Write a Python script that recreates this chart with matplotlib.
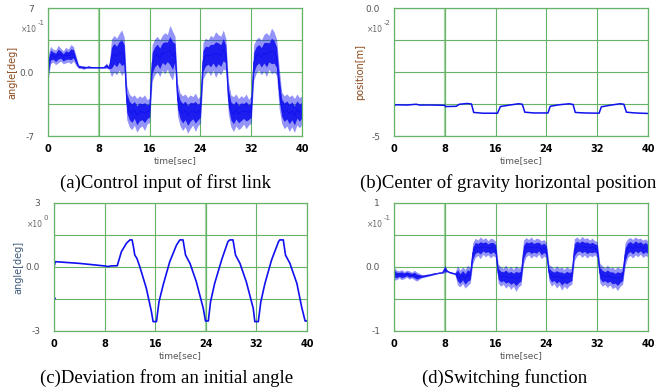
import numpy as np
import matplotlib
matplotlib.use("Agg")
from matplotlib import pyplot as plt

# time grid for the noisy records (a) and (d)
t_noisy = np.linspace(0, 40, 101)

# (a) control input of first link, x10^-1 deg : lower / upper edge of the noise band
a_lo = [-1.0, 0.9, 1.1, 0.8, 1.0, 1.2, 0.9, 1.0, 1.1, 0.9, 1.2, 0.7,
        0.4, 0.4, 0.3, 0.4, 0.4, 0.4, 0.4, 0.4, 0.4, 0.4, 0.4, 0.4, 0.3,
        -0.5, 0.0, -0.3, 0.2, -0.4, 0.1,
        -5.2, -6.0, -6.3, -5.8, -6.6, -6.1, -5.9, -6.4, -5.7, -5.5,
        -1.0, -0.3, 0.0, -0.5, 0.2, -0.2, 0.3, -0.4, -0.9, 0.4,
        -4.8, -5.9, -6.4, -6.0, -6.7, -6.2, -5.8, -6.5, -5.9, -5.6,
        -0.8, -0.2, 0.1, -0.4, 0.2, -0.6, 0.0, -0.3, 0.3, 0.2,
        -4.6, -6.0, -6.5, -5.9, -6.3, -6.1, -5.7, -6.2, -5.8, -5.6,
        -0.9, -0.1, 0.2, -0.3, 0.1, -0.5, 0.3, -0.2, 0.0, -0.4,
        -4.0, -5.6, -6.2, -5.9, -6.5, -6.0, -6.6, -5.8, -6.1, -5.7]
a_hi = [1.8, 2.8, 2.5, 2.4, 2.9, 2.6, 2.3, 2.7, 2.5, 3.0, 2.8, 1.8,
        0.8, 0.7, 0.7, 0.6, 0.7, 0.6, 0.6, 0.6, 0.6, 0.6, 0.6, 1.0, 0.6,
        3.6, 4.0, 3.7, 4.2, 4.6, 3.8,
        -1.5, -2.4, -2.7, -2.5, -2.9, -2.6, -2.8, -2.5, -3.0, -2.9,
        3.0, 3.6, 3.9, 3.5, 4.0, 4.3, 4.1, 5.1, 4.5, 3.9,
        -1.2, -2.3, -2.6, -2.4, -2.8, -2.5, -2.7, -2.3, -2.9, -2.6,
        3.2, 3.7, 3.5, 4.0, 3.8, 4.4, 4.1, 3.9, 4.6, 3.7,
        -1.0, -2.5, -2.7, -2.4, -2.9, -2.6, -2.8, -2.4, -3.0, -2.6,
        3.0, 3.6, 3.8, 3.5, 4.1, 4.3, 4.0, 4.8, 4.4, 3.6,
        0.5, -2.2, -2.6, -2.4, -2.7, -2.5, -2.9, -2.4, -2.8, -2.6]

# (d) switching function, x10^-1
d_lo = [-0.20, -0.20, -0.17, -0.20, -0.18, -0.16, -0.19, -0.17, -0.20, -0.22, -0.19,
        -0.17, -0.16, -0.15, -0.14, -0.13, -0.12, -0.11, -0.10, -0.10, -0.09,
        -0.08, -0.10, -0.11, -0.12,
        -0.28, -0.31, -0.26, -0.33, -0.29, -0.25,
        0.05, 0.15, 0.18, 0.13, 0.20, 0.16, 0.19, 0.14, 0.18, 0.15,
        -0.25, -0.30, -0.27, -0.33, -0.29, -0.35, -0.30, -0.38, -0.31, -0.28,
        0.05, 0.16, 0.19, 0.14, 0.18, 0.15, 0.20, 0.13, 0.17, 0.14,
        -0.22, -0.30, -0.26, -0.33, -0.28, -0.36, -0.30, -0.34, -0.29, -0.27,
        0.10, 0.17, 0.20, 0.15, 0.19, 0.14, 0.18, 0.16, 0.19, 0.15,
        -0.24, -0.30, -0.27, -0.32, -0.28, -0.34, -0.31, -0.37, -0.30, -0.27,
        0.02, 0.15, 0.18, 0.14, 0.19, 0.16, 0.20, 0.15, 0.18, 0.16]
d_hi = [0.00, -0.05, -0.06, -0.04, -0.07, -0.05, -0.06, -0.08, -0.05, -0.08, -0.10,
        -0.12, -0.12, -0.11, -0.11, -0.10, -0.09, -0.09, -0.08, -0.08, 0.03,
        -0.05, -0.07, -0.08, -0.09,
        0.02, -0.05, 0.00, -0.04, 0.03, -0.02,
        0.38, 0.45, 0.42, 0.47, 0.43, 0.46, 0.41, 0.45, 0.44, 0.40,
        0.05, 0.00, -0.02, 0.03, -0.03, 0.01, -0.04, 0.02, -0.02, 0.00,
        0.42, 0.46, 0.43, 0.47, 0.42, 0.45, 0.44, 0.41, 0.43, 0.38,
        0.04, 0.01, -0.03, 0.02, -0.02, 0.00, -0.04, 0.01, -0.03, -0.01,
        0.44, 0.47, 0.43, 0.48, 0.44, 0.46, 0.42, 0.45, 0.41, 0.40,
        0.06, 0.02, -0.02, 0.03, -0.02, 0.00, -0.04, 0.01, -0.03, 0.00,
        0.38, 0.44, 0.46, 0.43, 0.47, 0.44, 0.45, 0.42, 0.44, 0.40]

# (b) centre of gravity horizontal position, x10^-2 m
t_b = [0, 0.3, 2, 3.5, 4, 6, 8, 8.1, 9.8, 10.3, 11.5, 12.2, 12.55, 14, 16.3, 16.75,
       18, 19.6, 20.2, 20.6, 22, 24.25, 24.6, 26, 27.6, 28.2, 28.55, 30, 32.3, 32.65,
       34, 35.6, 36.2, 36.6, 38, 40]
b_val = [-3.82, -3.78, -3.79, -3.76, -3.79, -3.79, -3.80, -3.85, -3.84, -3.76, -3.73,
         -3.75, -4.08, -4.11, -4.11, -3.85, -3.80, -3.74, -3.76, -4.07, -4.10, -4.10,
         -3.84, -3.78, -3.74, -3.77, -4.08, -4.10, -4.11, -3.86, -3.80, -3.74, -3.76,
         -4.07, -4.10, -4.12]

# (c) deviation from an initial angle, deg
t_c = [0, 0.2, 4, 8, 8.5, 9, 10, 10.66, 11.45, 12, 12.35, 12.6, 12.77, 13.1, 13.56,
       14.6, 15.4, 15.67, 16.2, 16.6, 17.26, 18.3, 19.37, 19.9, 20.4, 20.8, 21.5, 22.5,
       23.6, 23.95, 24.4, 24.75, 25.4, 26.5, 27.5, 27.8, 28.3, 28.7, 29.4, 30.4, 31.5,
       31.75, 32.3, 32.7, 33.35, 34.4, 35.5, 35.7, 36.25, 36.6, 37.3, 38.4, 39.15, 39.7, 40]
c_val = [0.0, 0.25, 0.17, 0.05, 0.02, 0.05, 0.06, 0.72, 1.11, 1.27, 1.27, 0.88, 0.56,
         0.41, 0.02, -1.0, -2.09, -2.56, -2.56, -1.63, -0.84, 0.25, 1.03, 1.27, 1.27,
         0.56, 0.17, -0.69, -1.94, -2.53, -2.53, -1.63, -0.77, 0.33, 1.19, 1.27, 1.27,
         0.56, 0.17, -0.69, -1.94, -2.56, -2.56, -1.63, -0.77, 0.33, 1.19, 1.27, 1.27,
         0.56, 0.17, -0.77, -1.87, -2.53, -2.53]

x_ticks = [0, 8, 16, 24, 32, 40]
captions = ["(a)Control input of first link", "(b)Center of gravity horizontal position",
            "(c)Deviation from an initial angle", "(d)Switching function"]
y_limits = [(-7, 7), (-5, 0), (-3, 3), (-1, 1)]
y_labels = [["-7", "0.0", "7"], ["-5", "", "0.0"], ["-3", "0.0", "3"], ["-1", "0.0", "1"]]
exponents = ["-1", "-2", "0", "-1"]
y_titles = ["angle[deg]", "position[m]", "angle[deg]", ""]
y_title_colors = ["#8b4a1e", "#8b4a1e", "#3d5a7a", "#8b4a1e"]

narrow = ["Liberation Sans Narrow", "DejaVu Sans"]
serif = ["Liberation Serif", "DejaVu Serif"]
green = "#66b266"
pale_green = "#a9d6a9"
blue = "#1010f0"

fig = plt.figure(figsize=(6.67, 3.92), dpi=100)
W, H = 667, 392
boxes = [(48, 8, 254, 128), (394, 8, 254, 128), (54, 203, 253, 128), (394, 203, 254, 128)]
cap_pos = [(166, 183), (508, 183), (167, 378), (505, 378)]
label_x = [-0.122, -0.114, -0.122, -0.12]
pale_x = [8, 8, 24, 8]

axes = []
for i, (x0, y0, w, h) in enumerate(boxes):
    ax = fig.add_axes([x0 / W, 1 - (y0 + h) / H, w / W, h / H])
    lo, hi = y_limits[i]
    ax.set_xlim(0, 40)
    ax.set_ylim(lo, hi)
    ax.set_xticks(x_ticks)
    ax.set_xticklabels([str(v) for v in x_ticks], fontweight="bold", family=narrow, fontsize=7)
    q = (hi - lo) / 4
    ax.set_yticks([lo + q * k for k in range(5)])
    lab = y_labels[i]
    ax.set_yticklabels([lab[0], "", lab[1], "", lab[2]], family=narrow, fontsize=6.5, color="#555555")
    ax.tick_params(length=0, pad=6)
    ax.tick_params(axis="y", pad=10)
    ax.grid(True, color=green, linewidth=0.8)
    ax.axvline(pale_x[i], color=pale_green, linewidth=1.6, zorder=0.5)
    for s in ax.spines.values():
        s.set_color(green)
        s.set_linewidth(0.9)
    ax.set_xlabel("time[sec]", family=narrow, fontsize=6.5, color="#555555", labelpad=1)
    if y_titles[i]:
        ax.set_ylabel(y_titles[i], family=narrow, fontsize=7, color=y_title_colors[i])
        ax.yaxis.set_label_coords(label_x[i], 0.5)
    ax.text(-0.045, 0.8, "×10", transform=ax.transAxes, ha="right", va="bottom",
            fontsize=5.5, color="#666666", family=narrow)
    ax.text(-0.04, 0.86, exponents[i], transform=ax.transAxes, ha="left", va="bottom",
            fontsize=5, color="#666666", family=narrow)
    ax.set_axisbelow(True)
    fig.text(cap_pos[i][0] / W, 1 - cap_pos[i][1] / H, captions[i], ha="center", va="center",
             family=serif, fontsize=13.5)
    axes.append(ax)


def noisy_band(ax, lo, hi):
    lo = np.array(lo)
    hi = np.array(hi)
    ax.fill_between(t_noisy, lo, hi, color=blue, alpha=0.45, linewidth=0)
    span = hi - lo
    ax.fill_between(t_noisy, lo + 0.22 * span, hi - 0.22 * span, color=blue, alpha=0.9, linewidth=0)
    ax.plot(t_noisy, (lo + hi) / 2, color=blue, linewidth=0.6)


noisy_band(axes[0], a_lo, a_hi)
axes[1].plot(t_b, b_val, color=blue, linewidth=1.1)
axes[2].plot(t_c, c_val, color=blue, linewidth=1.2)
axes[2].plot([0], [-1.47], marker="o", markersize=1, color=blue)
noisy_band(axes[3], d_lo, d_hi)

fig.savefig("out.png", dpi=100)
